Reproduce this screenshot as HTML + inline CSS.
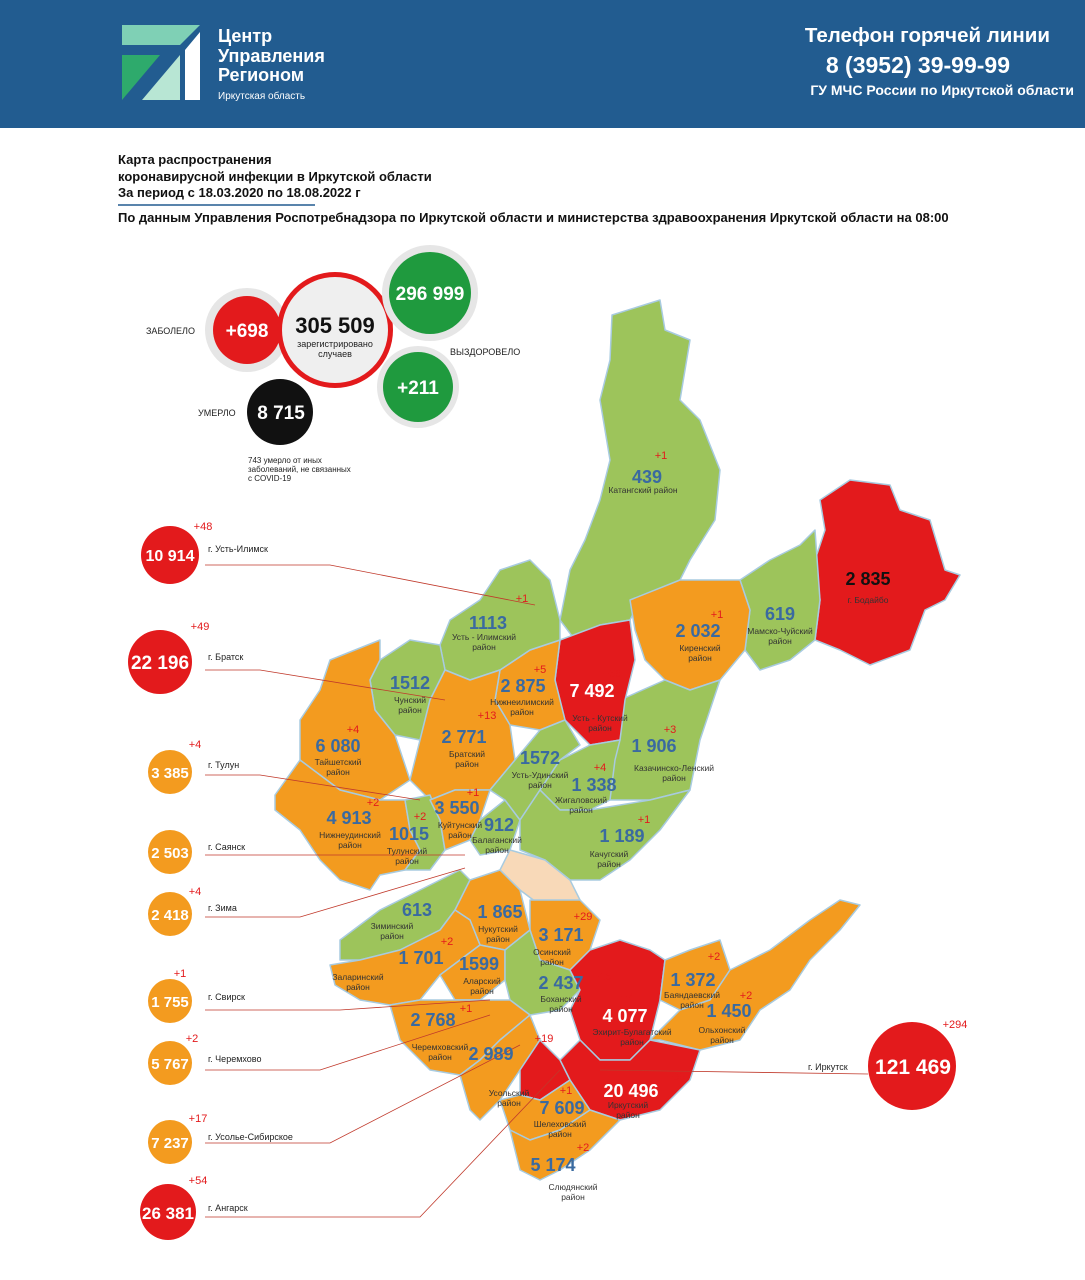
<!DOCTYPE html>
<html><head><meta charset="utf-8">
<style>
body{margin:0;width:1085px;height:1280px;background:#fff;font-family:"Liberation Sans",sans-serif;position:relative;overflow:hidden}
.hdr{position:absolute;left:0;top:0;width:1085px;height:128px;background:#225c90}
svg{position:absolute;left:0;top:0}
</style></head><body>
<div class="hdr"></div>
<svg width="1085" height="1280" viewBox="0 0 1085 1280" font-family="Liberation Sans, sans-serif">
<polygon points="122,25 200,25 180,45 122,45" fill="#7fd0b5"/>
<polygon points="122,55 160,55 122,100" fill="#2eaa6c"/>
<polygon points="142,100 180,55 180,100" fill="#b8e6d4"/>
<polygon points="185,50 200,32 200,100 185,100" fill="#fff"/>
<text x="218" y="42" fill="#fff" font-size="18" font-weight="bold">Центр</text>
<text x="218" y="62" fill="#fff" font-size="18" font-weight="bold">Управления</text>
<text x="218" y="81" fill="#fff" font-size="18" font-weight="bold">Регионом</text>
<text x="218" y="99" fill="#fff" font-size="10">Иркутская область</text>
<text x="1050" y="42" fill="#fff" font-size="20.5" font-weight="bold" text-anchor="end">Телефон горячей линии</text>
<text x="1010" y="73" fill="#fff" font-size="23" font-weight="bold" text-anchor="end">8 (3952) 39-99-99</text>
<text x="1074" y="95" fill="#fff" font-size="14" font-weight="bold" text-anchor="end">ГУ МЧС России по Иркутской области</text>
<g font-size="13" font-weight="bold" fill="#111">
<text x="118" y="164">Карта распространения</text>
<text x="118" y="181">коронавирусной инфекции в Иркутской области</text>
<text x="118" y="197">За период с 18.03.2020 по 18.08.2022 г</text>
<text x="118" y="222">По данным Управления Роспотребнадзора по Иркутской области и министерства здравоохранения Иркутской области на 08:00</text>
</g>
<line x1="118" y1="205" x2="315" y2="205" stroke="#225c90" stroke-width="1.5"/>
<g stroke="#a8cbe0" stroke-width="1.5" stroke-linejoin="round">
<polygon fill="#9dc45b" points="612,315 660,300 665,330 690,340 680,400 700,420 720,470 715,520 690,560 680,580 640,600 630,620 600,625 575,640 560,620 570,570 585,540 600,500 610,460 600,400 610,360"/>
<polygon fill="#e31a1c" points="820,500 850,480 890,485 900,510 930,520 945,570 960,575 945,600 925,610 910,650 870,665 840,650 815,640 820,600 815,560 825,530"/>
<polygon fill="#9dc45b" points="740,580 770,560 800,545 815,530 820,600 815,640 790,660 760,670 745,650 750,610"/>
<polygon fill="#f39b1f" points="630,600 680,580 740,580 750,610 745,650 720,680 690,690 665,680 645,660 635,630"/>
<polygon fill="#9dc45b" points="620,700 665,680 690,690 720,680 700,740 690,790 650,800 610,800 600,760 615,730"/>
<polygon fill="#e31a1c" points="560,640 600,625 630,620 635,660 625,700 620,740 590,745 565,720 555,680"/>
<polygon fill="#f39b1f" points="500,670 530,650 560,640 555,680 565,720 540,730 510,725 495,700"/>
<polygon fill="#9dc45b" points="450,620 480,600 500,570 530,560 550,580 560,620 560,640 530,650 500,670 470,680 445,670 440,645"/>
<polygon fill="#9dc45b" points="380,660 410,640 440,645 445,670 430,700 420,740 395,735 375,710 370,680"/>
<polygon fill="#f39b1f" points="430,700 445,670 470,680 500,670 495,700 510,725 515,760 490,790 455,790 430,800 410,780 420,740"/>
<polygon fill="#f39b1f" points="330,660 380,640 380,660 370,680 375,710 395,735 410,780 380,800 340,790 300,760 300,720 320,690"/>
<polygon fill="#f39b1f" points="300,760 340,790 380,800 405,800 410,830 420,850 405,870 380,875 370,890 340,880 320,860 300,830 275,810 275,795"/>
<polygon fill="#9dc45b" points="405,800 430,795 440,820 445,850 430,870 405,870 420,850 410,830"/>
<polygon fill="#f39b1f" points="430,800 455,790 490,790 480,820 470,840 445,850 440,820"/>
<polygon fill="#9dc45b" points="470,840 480,820 505,800 520,820 510,850 480,855"/>
<polygon fill="#9dc45b" points="490,790 515,760 540,730 565,720 580,745 560,760 540,790 520,820 505,800"/>
<polygon fill="#9dc45b" points="560,760 590,745 620,740 615,760 610,800 590,810 560,810 540,790"/>
<polygon fill="#9dc45b" points="540,790 560,810 590,810 650,800 690,790 660,830 630,860 600,880 570,880 545,860 520,850 520,820"/>
<polygon fill="#f8d9b8" points="510,850 545,860 570,880 580,900 540,905 520,890 500,870"/>
<polygon fill="#9dc45b" points="340,940 380,910 420,890 460,870 470,880 455,910 440,930 400,950 360,960 340,960"/>
<polygon fill="#f39b1f" points="470,880 500,870 520,890 530,930 505,950 480,945 470,920 455,910"/>
<polygon fill="#f39b1f" points="530,900 580,900 600,920 590,950 570,970 540,960 530,930"/>
<polygon fill="#f39b1f" points="330,965 360,960 400,950 440,930 455,910 470,920 480,945 460,960 440,975 420,1000 390,1005 360,1000 335,985"/>
<polygon fill="#f39b1f" points="440,975 460,960 480,945 505,950 505,980 480,1000 455,1000"/>
<polygon fill="#9dc45b" points="505,950 530,930 540,960 570,970 580,990 560,1010 530,1015 510,1000 505,980"/>
<polygon fill="#f39b1f" points="390,1005 420,1000 455,1000 480,1000 510,1000 530,1015 500,1040 480,1060 460,1075 430,1070 400,1040"/>
<polygon fill="#e31a1c" points="590,950 620,940 650,950 665,960 660,1000 650,1040 630,1060 600,1060 580,1040 570,1010 580,990 570,970"/>
<polygon fill="#f39b1f" points="665,960 690,950 720,940 730,970 710,1000 680,1010 660,1000"/>
<polygon fill="#f39b1f" points="680,1010 710,1000 730,970 770,950 810,920 840,900 860,905 840,930 810,960 790,990 760,1010 740,1040 700,1050 660,1040 650,1040"/>
<polygon fill="#f39b1f" points="460,1075 480,1060 500,1040 530,1015 540,1040 520,1070 500,1100 480,1120 470,1110"/>
<polygon fill="#e31a1c" points="580,1040 600,1060 630,1060 650,1040 700,1050 690,1080 660,1110 620,1120 590,1110 570,1080 560,1060"/>
<polygon fill="#e31a1c" points="520,1070 540,1040 560,1060 570,1080 540,1100 520,1095"/>
<polygon fill="#f39b1f" points="500,1100 520,1095 540,1100 570,1080 590,1110 560,1130 530,1140 510,1130"/>
<polygon fill="#f39b1f" points="510,1130 530,1140 560,1130 590,1110 620,1120 590,1150 560,1170 540,1180 520,1170"/>
</g>
<g stroke="#c0392b" stroke-width="0.8" fill="none">
<polyline points="205,565 330,565 535,605"/>
<polyline points="205,670 260,670 445,700"/>
<polyline points="205,775 260,775 420,800"/>
<polyline points="205,855 260,855 465,855"/>
<polyline points="205,917 300,917 465,868"/>
<polyline points="205,1010 340,1010 490,1000"/>
<polyline points="205,1070 320,1070 490,1015"/>
<polyline points="205,1143 330,1143 520,1045"/>
<polyline points="205,1217 420,1217 560,1070"/>
<polyline points="868,1074 600,1070"/>
</g>
<circle cx="247" cy="330" r="42" fill="#e6e6e6"/><circle cx="247" cy="330" r="34" fill="#e31a1c"/>
<circle cx="335" cy="330" r="58" fill="#e31a1c"/><circle cx="335" cy="330" r="53" fill="#efefef"/>
<circle cx="430" cy="293" r="48" fill="#e6e6e6"/><circle cx="430" cy="293" r="41" fill="#1f9a3e"/>
<circle cx="418" cy="387" r="41" fill="#e6e6e6"/><circle cx="418" cy="387" r="35" fill="#1f9a3e"/>
<circle cx="280" cy="412" r="33" fill="#111"/>
<g font-weight="bold" text-anchor="middle">
<text x="247" y="337" fill="#fff" font-size="19">+698</text>
<text x="335" y="333" fill="#111" font-size="22">305 509</text>
<text x="430" y="300" fill="#fff" font-size="19">296 999</text>
<text x="418" y="394" fill="#fff" font-size="19">+211</text>
<text x="281" y="419" fill="#fff" font-size="19">8 715</text>
</g>
<g font-size="9" fill="#222">
<text x="335" y="347" text-anchor="middle">зарегистрировано</text>
<text x="335" y="357" text-anchor="middle">случаев</text>
<text x="146" y="334">ЗАБОЛЕЛО</text>
<text x="450" y="355">ВЫЗДОРОВЕЛО</text>
<text x="198" y="416">УМЕРЛО</text>
<text x="248" y="463" font-size="8">743 умерло от иных</text>
<text x="248" y="472" font-size="8">заболеваний, не связанных</text>
<text x="248" y="481" font-size="8">с COVID-19</text>
</g>
<g font-weight="bold" text-anchor="middle" fill="#fff">
<circle cx="170" cy="555" r="29" fill="#e31a1c"/><text x="170" y="561" font-size="16">10 914</text>
<circle cx="160" cy="662" r="32" fill="#e31a1c"/><text x="160" y="669" font-size="19">22 196</text>
<circle cx="170" cy="772" r="22" fill="#f39b1f"/><text x="170" y="778" font-size="15">3 385</text>
<circle cx="170" cy="852" r="22" fill="#f39b1f"/><text x="170" y="858" font-size="15">2 503</text>
<circle cx="170" cy="914" r="22" fill="#f39b1f"/><text x="170" y="920" font-size="15">2 418</text>
<circle cx="170" cy="1001" r="22" fill="#f39b1f"/><text x="170" y="1007" font-size="15">1 755</text>
<circle cx="170" cy="1063" r="22" fill="#f39b1f"/><text x="170" y="1069" font-size="15">5 767</text>
<circle cx="170" cy="1142" r="22" fill="#f39b1f"/><text x="170" y="1148" font-size="15">7 237</text>
<circle cx="168" cy="1212" r="28" fill="#e31a1c"/><text x="168" y="1219" font-size="17">26 381</text>
<circle cx="912" cy="1066" r="44" fill="#e31a1c"/><text x="913" y="1074" font-size="21">121 469</text>
</g>
<g font-size="11" fill="#e31a1c" text-anchor="middle">
<text x="203" y="530">+48</text><text x="200" y="630">+49</text><text x="195" y="748">+4</text>
<text x="195" y="895">+4</text><text x="180" y="977">+1</text><text x="192" y="1042">+2</text>
<text x="198" y="1122">+17</text><text x="198" y="1184">+54</text><text x="955" y="1028">+294</text>
</g>
<g font-size="9" fill="#222">
<text x="208" y="552">г. Усть-Илимск</text><text x="208" y="660">г. Братск</text>
<text x="208" y="768">г. Тулун</text><text x="208" y="850">г. Саянск</text>
<text x="208" y="911">г. Зима</text><text x="208" y="1000">г. Свирск</text>
<text x="208" y="1062">г. Черемхово</text><text x="208" y="1140">г. Усолье-Сибирское</text>
<text x="208" y="1211">г. Ангарск</text><text x="808" y="1070">г. Иркутск</text>
</g>
<g font-size="18" font-weight="bold" fill="#3a6aa0" text-anchor="middle">
<text x="647" y="483">439</text><text x="868" y="585" fill="#111">2 835</text>
<text x="780" y="620">619</text><text x="698" y="637">2 032</text>
<text x="488" y="629">1113</text><text x="410" y="689">1512</text>
<text x="523" y="692">2 875</text><text x="592" y="697" fill="#fff">7 492</text>
<text x="464" y="743">2 771</text><text x="338" y="752">6 080</text>
<text x="654" y="752">1 906</text><text x="540" y="764">1572</text>
<text x="594" y="791">1 338</text><text x="457" y="814">3 550</text>
<text x="349" y="824">4 913</text><text x="409" y="840">1015</text>
<text x="499" y="831">912</text><text x="622" y="842">1 189</text>
<text x="417" y="916">613</text><text x="500" y="918">1 865</text>
<text x="561" y="941">3 171</text><text x="421" y="964">1 701</text>
<text x="479" y="970">1599</text><text x="561" y="989">2 437</text>
<text x="693" y="986">1 372</text><text x="729" y="1017">1 450</text>
<text x="433" y="1026">2 768</text><text x="625" y="1022" fill="#fff">4 077</text>
<text x="491" y="1060">2 989</text><text x="631" y="1097" fill="#fff">20 496</text>
<text x="562" y="1114">7 609</text><text x="553" y="1171">5 174</text>
</g>
<g font-size="11" fill="#e31a1c" text-anchor="middle">
<text x="661" y="459">+1</text><text x="522" y="602">+1</text><text x="717" y="618">+1</text>
<text x="540" y="673">+5</text><text x="612" y="677">+68</text><text x="353" y="733">+4</text>
<text x="487" y="719">+13</text><text x="670" y="733">+3</text><text x="600" y="771">+4</text>
<text x="473" y="796">+1</text><text x="373" y="806">+2</text><text x="420" y="820">+2</text>
<text x="644" y="823">+1</text><text x="583" y="920">+29</text><text x="447" y="945">+2</text>
<text x="602" y="980">+15</text><text x="714" y="960">+2</text><text x="627" y="1000">+7</text>
<text x="746" y="999">+2</text><text x="466" y="1012">+1</text><text x="544" y="1042">+19</text>
<text x="676" y="1080">+39</text><text x="566" y="1094">+1</text><text x="583" y="1151">+2</text>
</g>
<g font-size="8.5" fill="#333" text-anchor="middle">
<text x="643" y="493">Катангский район</text><text x="868" y="603">г. Бодайбо</text>
<text x="780" y="634">Мамско-Чуйский</text><text x="780" y="644">район</text>
<text x="700" y="651">Киренский</text><text x="700" y="661">район</text>
<text x="484" y="640">Усть - Илимский</text><text x="484" y="650">район</text>
<text x="410" y="703">Чунский</text><text x="410" y="713">район</text>
<text x="522" y="705">Нижнеилимский</text><text x="522" y="715">район</text>
<text x="600" y="721">Усть - Кутский</text><text x="600" y="731">район</text>
<text x="467" y="757">Братский</text><text x="467" y="767">район</text>
<text x="338" y="765">Тайшетский</text><text x="338" y="775">район</text>
<text x="674" y="771">Казачинско-Ленский</text><text x="674" y="781">район</text>
<text x="540" y="778">Усть-Удинский</text><text x="540" y="788">район</text>
<text x="581" y="803">Жигаловский</text><text x="581" y="813">район</text>
<text x="460" y="828">Куйтунский</text><text x="460" y="838">район</text>
<text x="350" y="838">Нижнеудинский</text><text x="350" y="848">район</text>
<text x="407" y="854">Тулунский</text><text x="407" y="864">район</text>
<text x="497" y="843">Балаганский</text><text x="497" y="853">район</text>
<text x="609" y="857">Качугский</text><text x="609" y="867">район</text>
<text x="392" y="929">Зиминский</text><text x="392" y="939">район</text>
<text x="498" y="932">Нукутский</text><text x="498" y="942">район</text>
<text x="552" y="955">Осинский</text><text x="552" y="965">район</text>
<text x="358" y="980">Заларинский</text><text x="358" y="990">район</text>
<text x="482" y="984">Аларский</text><text x="482" y="994">район</text>
<text x="561" y="1002">Боханский</text><text x="561" y="1012">район</text>
<text x="692" y="998">Баяндаевский</text><text x="692" y="1008">район</text>
<text x="722" y="1033">Ольхонский</text><text x="722" y="1043">район</text>
<text x="632" y="1035">Эхирит-Булагатский</text><text x="632" y="1045">район</text>
<text x="440" y="1050">Черемховский</text><text x="440" y="1060">район</text>
<text x="509" y="1096">Усольский</text><text x="509" y="1106">район</text>
<text x="628" y="1108">Иркутский</text><text x="628" y="1118">район</text>
<text x="560" y="1127">Шелеховский</text><text x="560" y="1137">район</text>
<text x="573" y="1190">Слюдянский</text><text x="573" y="1200">район</text>
</g>
</svg>
</body></html>
